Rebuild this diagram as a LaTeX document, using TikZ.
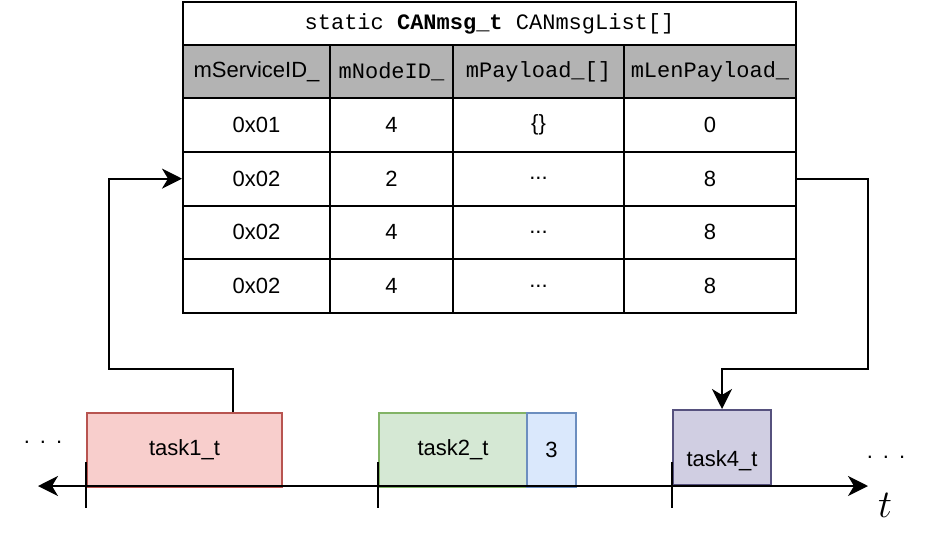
\documentclass[tikz,border=0pt]{standalone}
\usepackage{fontspec}
\setmainfont{Liberation Sans}
\setmonofont{Liberation Mono}
\usetikzlibrary{arrows.meta,calc,positioning}
\definecolor{ink}{HTML}{000000}
\definecolor{headgray}{HTML}{B3B3B3}
\definecolor{redfill}{HTML}{F8CECC}
\definecolor{redline}{HTML}{B85450}
\definecolor{greenfill}{HTML}{D5E8D4}
\definecolor{greenline}{HTML}{82B366}
\definecolor{bluefill}{HTML}{DAE8FC}
\definecolor{blueline}{HTML}{6C8EBF}
\definecolor{purplefill}{HTML}{D0CEE2}
\definecolor{purpleline}{HTML}{56517E}
\newcommand{\ellip}{.{}.{}.}
\tikzset{
  cell/.style={draw=ink,line width=2pt,anchor=north west,inner sep=0pt,minimum height=53.75pt},
  taskbox/.style 2 args={fill=#1,draw=#2,line width=2pt,anchor=north west,inner sep=0pt,minimum height=74pt},
  blk/.tip={Stealth[length=20pt,width=20pt,inset=6pt]},
  flow/.style={draw=ink,line width=2pt,-blk},
}

\begin{document}
\begin{tikzpicture}[x=1pt,y=-1pt,line join=miter,font=\fontsize{22}{26}\selectfont]
  \path[use as bounding box] (0,0) rectangle (932,557);
  \fill[white] (0,0) rectangle (932,557);

  \node[cell,minimum width=613pt,minimum height=43pt] (title) at (182,1) {\texttt{static \textbf{CANmsg\_t} CANmsgList[]}};
  \foreach \x/\w/\h [count=\k] in {182/147/{mServiceID\_}, 329/123/{\texttt{mNodeID\_}}, 452/171/{\texttt{mPayload\_[]}}, 623/172/{\texttt{mLenPayload\_}}}{
    \node[cell,fill=headgray,minimum width=\w pt,minimum height=53pt] (head\k) at (\x,44) {\h};
  }
  \foreach \a/\b/\c/\d [count=\r] in {0x01/4/\{\}/0, 0x02/2/\ellip/8, 0x02/4/\ellip/8, 0x02/4/\ellip/8}{
    \pgfmathsetmacro{\y}{97+53.75*(\r-1)}
    \node[cell,minimum width=147pt] (r\r-1) at (182,\y) {\a};
    \node[cell,minimum width=123pt] (r\r-2) at (329,\y) {\b};
    \node[cell,minimum width=171pt] (r\r-3) at (452,\y) {\c};
    \node[cell,minimum width=172pt] (r\r-4) at (623,\y) {\d};
  }

  \node[taskbox={redfill}{redline},minimum width=195pt] (task1) at (86,412) {task1\_t};
  \node[taskbox={greenfill}{greenline},minimum width=148pt] (task2) at (378,412) {task2\_t};
  \node[taskbox={bluefill}{blueline},minimum width=49pt] (task3) at (526,412) {3};
  \node[taskbox={purplefill}{purpleline},minimum width=98pt,minimum height=75pt] (task4) at (672,409) {};
  \node (task4lbl) at ($(task4.center)+(0,13)$) {task4\_t};

  \coordinate (axL) at (38,486);
  \coordinate (axR) at (868,486);
  \draw[line width=2pt,blk-blk] (axL) -- (axR);
  \foreach \x in {86,378,672}
    \draw[line width=2pt] (\x,462) -- (\x,508);
  \node[anchor=base] (dotsL) at (43,443) {.\hspace{10pt}.\hspace{10pt}.};
  \node[anchor=base] (dotsR) at (886,458) {.\hspace{10pt}.\hspace{10pt}.};
  \node[scale=1.9] (tlbl) at (885,505) {$t$};

  \coordinate (bendL) at (109,369);
  \coordinate (bendR) at (868,369);
  \draw[flow] ([xshift=48pt]task1.north) |- (bendL) |- (r2-1.west);
  \draw[flow] (r2-4.east) -| (bendR) -| (task4.north);
\end{tikzpicture}
\end{document}
